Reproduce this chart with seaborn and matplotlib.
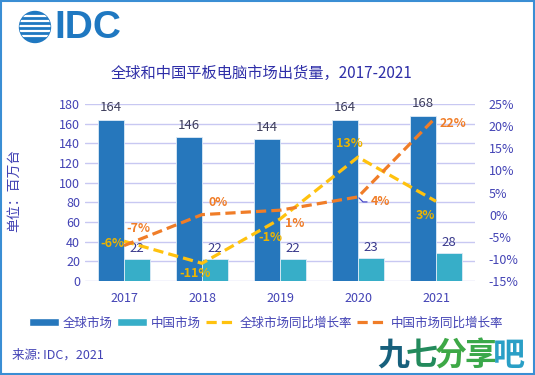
import numpy as np
import pandas as pd
import matplotlib
matplotlib.use("Agg")
import matplotlib.pyplot as plt
from matplotlib.patches import Patch, Circle, Rectangle
from matplotlib.lines import Line2D
import seaborn as sns

# --- data ---
years = ["2017", "2018", "2019", "2020", "2021"]
global_units = [164, 146, 144, 164, 168]
china_units = [22, 22, 22, 23, 28]
global_yoy = [-6, -11, -1, 13, 3]
china_yoy = [-7, 0, 1, 4, 22]

bar_names = ["全球市场", "中国市场"]
line_names = ["全球市场同比增长率", "中国市场同比增长率"]

# --- style ---
sns.set_theme(style="white")
plt.rcParams["font.family"] = ["Noto Sans CJK SC", "DejaVu Sans"]

TXT = "#4343B5"
TITLE = "#2E2EA8"
GRID = "#C8C8F2"
BLUE = "#2677BC"
TEAL = "#37AEC8"
YEL = "#FFC20E"
ORG = "#F07D28"

df = pd.DataFrame({
    "year": years * 2,
    "units": global_units + china_units,
    "market": [bar_names[0]] * len(years) + [bar_names[1]] * len(years),
})

fig = plt.figure(figsize=(5.35, 3.75), dpi=100)
ax = fig.add_axes([85 / 535, 1 - 281 / 375, 390 / 535, 177 / 375])

sns.barplot(data=df, x="year", y="units", hue="market", palette=[BLUE, TEAL],
            saturation=1, width=0.66, edgecolor="#DDEBF7", linewidth=0.6,
            legend=False, ax=ax)
ax.set_xlim(-0.5, 4.5)
ax.set_ylim(0, 180)
ax.set_yticks(range(0, 181, 20))
ax.set_xlabel("")
ax.set_ylabel("")
ax.grid(axis="y", color=GRID, linewidth=1)
ax.set_axisbelow(True)
for s in ax.spines.values():
    s.set_visible(False)
ax.tick_params(axis="both", length=0, labelsize=9, colors=TXT)
ax.tick_params(axis="x", pad=8)

ax.bar_label(ax.containers[0], padding=4, fontsize=9.5, color="#3D3D5C")
ax.bar_label(ax.containers[1], padding=3, fontsize=9.5, color="#3A3A8C")

# growth rate lines on right axis
ax2 = ax.twinx()
xs = np.arange(len(years))
sns.lineplot(x=xs, y=global_yoy, color=YEL, lw=2.3, dashes=False, ax=ax2)
sns.lineplot(x=xs, y=china_yoy, color=ORG, lw=2.3, dashes=False, ax=ax2)
for ln in ax2.get_lines():
    ln.set_linestyle((0, (3.2, 1.6)))
ax2.set_ylim(-15, 25)
ax2.set_yticks(range(-15, 26, 5))
ax2.set_yticklabels([f"{v}%" for v in range(-15, 26, 5)])
ax2.grid(False)
for s in ax2.spines.values():
    s.set_visible(False)
ax2.tick_params(axis="y", length=0, labelsize=9, colors=TXT, pad=10)

# percentage labels (offsets in pixels: right, down)
g_off = [(-12, 2), (-7, 10), (-10, 18), (-9, -14), (-11, 14)]
c_off = [(14, -17), (16, -12), (15, 13), (22, 5), (17, 6)]
for i, v in enumerate(global_yoy):
    dx, dy = g_off[i]
    ax2.annotate(f"{v}%", (i, v), xytext=(dx * 0.72, -dy * 0.72),
                 textcoords="offset points", ha="center", va="center",
                 fontsize=9, fontweight="bold", color="#EDB400")
for i, v in enumerate(china_yoy):
    dx, dy = c_off[i]
    kw = {}
    if i == 3:
        kw["arrowprops"] = dict(arrowstyle="-", color="#4A4AC8", lw=0.9,
                                shrinkA=0, shrinkB=1,
                                connectionstyle="angle,angleA=0,angleB=-45,rad=0")
    ax2.annotate(f"{v}%", (i, v), xytext=(dx * 0.72, -dy * 0.72),
                 textcoords="offset points", ha="center", va="center",
                 fontsize=9, fontweight="bold", color=ORG, **kw)

# titles and texts
fig.text(262 / 535, 1 - 73 / 375, "全球和中国平板电脑市场出货量，2017-2021",
         ha="center", va="center", fontsize=11, color=TITLE)
fig.text(14 / 535, 1 - 190 / 375, "单位：百万台", rotation=90,
         ha="center", va="center", fontsize=10, color=TXT)
fig.text(12 / 535, 1 - 355 / 375, "来源: IDC，2021", ha="left", va="center",
         fontsize=9, color=TXT)

handles = [
    Patch(facecolor=BLUE),
    Patch(facecolor=TEAL),
    Line2D([], [], color=YEL, lw=2.3, linestyle=(0, (3.2, 1.6))),
    Line2D([], [], color=ORG, lw=2.3, linestyle=(0, (3.2, 1.6))),
]
fig.legend(handles, bar_names + line_names, loc="center",
           bbox_to_anchor=(266 / 535, 1 - 323 / 375), ncol=4, frameon=False,
           fontsize=9, labelcolor=TXT, handlelength=2.4, handleheight=0.6,
           handletextpad=0.3, columnspacing=0.4)

# overlay for logo, watermark, border
ov = fig.add_axes([0, 0, 1, 1], zorder=-1)
ov.set_xlim(0, 535)
ov.set_ylim(375, 0)
ov.axis("off")
logo = Circle((35, 27), 15.5, color="#1F78C1")
ov.add_patch(logo)
for yy in [15.5, 20.5, 25.5, 30.5, 35.5]:
    ln, = ov.plot([15, 55], [yy, yy], color="white", lw=1.6)
    ln.set_clip_path(logo)
ov.text(54, 28.5, "IDC", ha="left", va="center", fontsize=28,
        family="Liberation Sans", fontweight="bold", color="#1F78C1")
wm_cols = ["#17607C", "#238A5C", "#3DA846", "#3AA84A", "#2A9FC6"]
for i, ch in enumerate("九七分享吧"):
    ov.text(393 + i * 29, 356, ch, ha="center", va="center", fontsize=23,
            fontweight="bold", color=wm_cols[i])
ov.add_patch(Rectangle((0.8, 0.8), 533.4, 373.4, fill=False,
                       edgecolor="#3A8ED4", lw=1.5))

fig.savefig("out.png", dpi=100)
